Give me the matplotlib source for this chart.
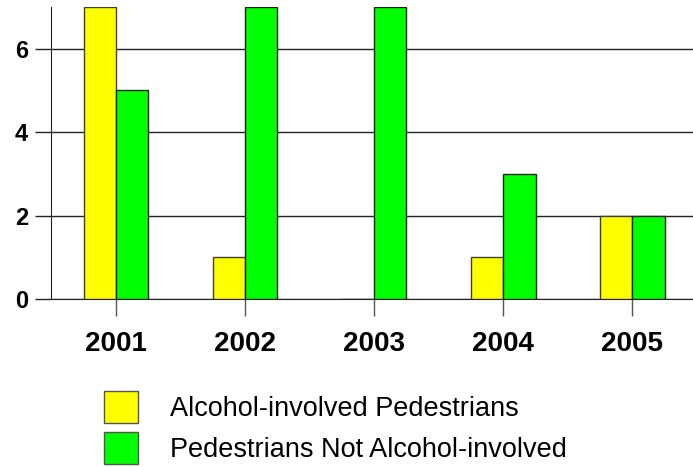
import numpy as np
import matplotlib.pyplot as plt
from matplotlib.patches import Patch

plt.rcParams['font.family'] = ['Liberation Sans', 'DejaVu Sans']

# data
years = ['2001', '2002', '2003', '2004', '2005']
alcohol = [7, 1, 0, 1, 2]
not_alcohol = [5, 7, 7, 3, 2]
labels = ['Alcohol-involved Pedestrians', 'Pedestrians Not Alcohol-involved']
colors = ['#ffff00', '#00ff00']

fig = plt.figure(figsize=(6.93, 4.67), dpi=100)
ax = fig.add_axes([51 / 693, 1 - 299 / 467, 1 - 51 / 693, (299 - 7) / 467])

x = np.arange(len(years))
w = 0.25
ax.bar(x - w / 2, alcohol, w, color=colors[0], edgecolor='#404040', linewidth=1, zorder=3)
ax.bar(x + w / 2, not_alcohol, w, color=colors[1], edgecolor='#202020', linewidth=1, zorder=3)

ax.set_xlim(-0.504, 4.47)
ax.set_ylim(0, 7)
ax.set_yticks([0, 2, 4, 6])
ax.set_xticks(x)
ax.set_xticklabels(years, fontsize=20, fontweight='bold')
for t in ax.get_yticklabels():
    t.set_fontsize(17)
    t.set_fontweight('bold')

ax.yaxis.grid(True, color='#222222', linewidth=1, zorder=0)
ax.set_axisbelow(True)
ax.tick_params(axis='y', length=11.5, width=1, pad=5, color='#222222')
ax.tick_params(axis='x', length=12, width=1, pad=11, color='#555555')

for s in ['top', 'right']:
    ax.spines[s].set_visible(False)
ax.spines['left'].set_color('#222222')
ax.spines['bottom'].set_color('#222222')

# legend below the plot
handles = [Patch(facecolor=c, edgecolor='#555555', linewidth=1) for c in colors]
fig.legend(handles, labels, loc='upper left', bbox_to_anchor=(104 / 693, 1 - 391 / 467),
           frameon=False, borderpad=0, borderaxespad=0, fontsize=19.5,
           handlelength=1.26, handleheight=1.44, handletextpad=1.18, labelspacing=0.33)

fig.savefig('out.png', dpi=100)
